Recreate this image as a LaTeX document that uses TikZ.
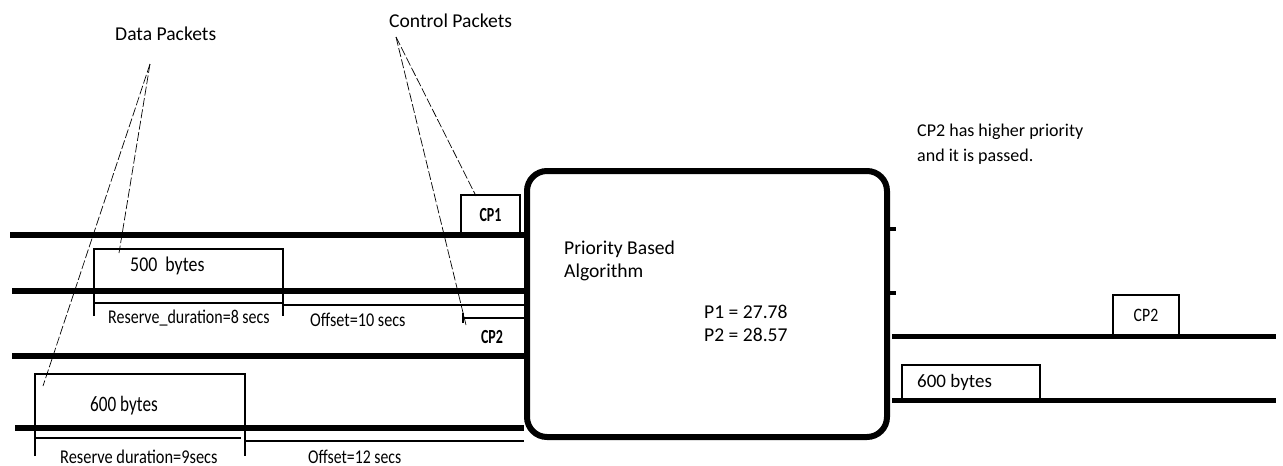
\documentclass[tikz,border=0pt]{standalone}
\usepackage{fontspec}
\setmainfont{Carlito}
\usepackage{graphicx}
% horizontally squeezed text
\newcommand\narrowtxt[2]{\scalebox{#1}[1]{#2}}

\begin{document}
\begin{tikzpicture}[x=1pt,y=-1pt,
  wire/.style={line width=5.5pt},
  hair/.style={line width=1.1pt},
  leader/.style={line width=0.7pt, dash pattern=on 9pt off 2.5pt},
  pkt/.style={draw, line width=1.1pt, inner sep=0pt},
  lbl/.style={inner sep=0pt, anchor=west, font=\fontsize{19.6}{23}\selectfont},
  sq/.style={inner sep=0pt, anchor=west},
  cpname/.style={inner sep=0pt, font=\fontsize{20}{20}\selectfont\bfseries},
]
\useasboundingbox (0,0) rectangle (1283,466);

% central processing block
\node[draw, line width=6pt, rounded corners=20pt,
      minimum width=360pt, minimum height=266pt] (alg) at (707,304) {};
\node[lbl, align=left] (algtxt) at (564,260.5) {Priority Based\\Algorithm};
\node[lbl, align=left] (prio) at (704,323.5) {P1 = 27.78\\P2 = 28.57};

% incoming channels
\coordinate (l1) at (10,235);
\coordinate (l2) at (12,291);
\coordinate (l3) at (12,356);
\coordinate (l4) at (15,428);
\foreach \c in {l1,l2,l3,l4}
  \draw[wire] (\c) -- (\c -| alg.west);

% stubs on the right side of the block
\draw[line width=4pt] (alg.east |- 0,229) -- ++(6,0);
\draw[line width=4pt] (alg.east |- 0,293) -- ++(6,0);

% outgoing channels
\coordinate (r1) at (1276,336);
\coordinate (r2) at (1276,400);
\draw[line width=5pt] (892,336) -- (r1);
\draw[line width=5pt] (892,400) -- (r2);

% control packet CP1
\node[pkt, minimum width=59pt, minimum height=40pt] (cp1) at (490.5,215)
  {\narrowtxt{0.7}{\fontsize{20}{20}\selectfont\bfseries CP1}};

% control packet CP2 (incoming)
\draw[hair] (463,313) -- (463,323);
\draw[hair] (463,318) -- (alg.west |- 0,318);
\node[inner sep=0pt] (cp2in) at (492,337)
  {\narrowtxt{0.7}{\fontsize{20}{20}\selectfont\bfseries CP2}};

% data packet of 500 bytes
\draw[hair] (94,316) -- (94,249) -- (283,249) -- (283,316);
\node[sq] (d500) at (130,266)
  {\fontsize{21}{21}\selectfont\narrowtxt{0.85}{500\ \ bytes}};
\draw[hair] (94,303) -- (283,303);
\draw[hair] (283,305) -- (alg.west |- 0,305);
\node[sq] (rd8) at (108,318)
  {\fontsize{19.5}{19.5}\selectfont\narrowtxt{0.82}{Reserve\_duration=8 secs}};
\node[sq] (off10) at (310,320)
  {\fontsize{19.5}{19.5}\selectfont\narrowtxt{0.83}{Offset=10 secs}};

% data packet of 600 bytes
\draw[hair] (35,456) -- (35,374) -- (245,374) -- (245,456);
\node[sq] (d600) at (90,406)
  {\fontsize{22}{22}\selectfont\narrowtxt{0.78}{600 bytes}};
\draw[line width=2pt] (35,438) -- (241,438);
\draw[hair] (245,441) -- (alg.west |- 0,441);
\node[sq] (rd9) at (60,457)
  {\fontsize{19.5}{19.5}\selectfont\narrowtxt{0.84}{Reserve duration=9secs}};
\node[sq] (off12) at (308,457)
  {\fontsize{19.5}{19.5}\selectfont\narrowtxt{0.81}{Offset=12 secs}};

% callout labels with their leaders
\node[lbl] (dp) at (115,34) {Data Packets};
\node[lbl] (cp) at (389,21) {Control Packets};
\coordinate (dpfoot) at (150,64);
\coordinate (cpfoot) at (396,37);
\coordinate (dpa) at (43,386);
\coordinate (dpb) at (119,253);
\coordinate (cpa) at (476,196);
\coordinate (cpb) at (466,325);
\draw[leader] (dpfoot) -- (dpa);
\draw[leader] (dpfoot) -- (dpb);
\draw[leader] (cpfoot) -- (cpa);
\draw[leader] (cpfoot) -- (cpb);

% outgoing packets
\node[pkt, minimum width=66pt, minimum height=41pt] (cp2out) at (1146,315.5)
  {\fontsize{19}{19}\selectfont\narrowtxt{0.83}{CP2}};
\node[pkt, minimum width=138pt, minimum height=35pt] (d600out) at (971,382.5) {};
\node[lbl, font=\fontsize{19}{23}\selectfont] (d600outtxt) at (917,382) {600 bytes};

% result note
\node[inner sep=0pt, anchor=west, align=left, font=\fontsize{18}{25}\selectfont]
  (note) at (917,144.5) {CP2 has higher priority\\and it is passed.};
\end{tikzpicture}
\end{document}
